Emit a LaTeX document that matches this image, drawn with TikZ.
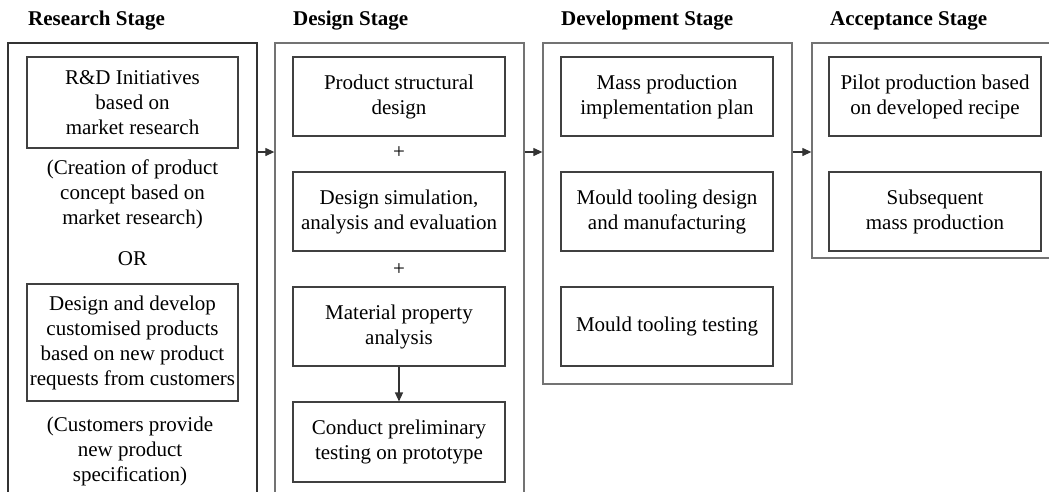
\documentclass[tikz,border=0pt]{standalone}
\usepackage{fontspec}
\setmainfont{Liberation Serif}
\usetikzlibrary{arrows.meta}
\begin{document}
\begin{tikzpicture}[x=1pt,y=-1pt,
  font=\fontsize{21}{25}\selectfont,
  outerbox/.style={draw=black!55,line width=1.3pt,inner sep=0pt,minimum width=#1},
  innerbox/.style={draw=black!75,line width=1.1pt,inner sep=0pt,align=center,minimum width=212pt},
  plain/.style={inner sep=0pt,align=center},
  title/.style={anchor=base west,inner sep=0pt,font=\fontsize{21}{25}\selectfont\bfseries},
  arr/.style={draw=black!80,line width=1.2pt,-{Triangle[length=9pt,width=8pt]}}]
\useasboundingbox (0,0) rectangle (1049,491);
% titles
\node[title] (tr) at (28,25) {Research Stage};
\node[title] (td) at (293,25) {Design Stage};
\node[title] (tv) at (561,25) {Development Stage};
\node[title] (ta) at (830,25) {Acceptance Stage};
% outer boxes
\node[outerbox=249pt,draw=black!80,minimum height=480pt] (rout) at (132.5,283) {};
\node[outerbox=249pt,minimum height=480pt] (dout) at (399.5,283) {};
\node[outerbox=249pt,minimum height=341pt] (vout) at (667.5,213.5) {};
\node[outerbox=249pt,minimum height=215pt] (aout) at (936.5,150.5) {};
% research
\node[innerbox,minimum width=211pt,minimum height=91pt] (r1) at (132.5,102.5) {R\&D Initiatives\\based on\\market research};
\node[plain] (n1) at (132.5,194) {(Creation of product\\concept based on\\market research)};
\node[plain] (or) at (132.5,259) {OR};
\node[innerbox,minimum width=211pt,minimum height=117pt] (r2) at (132.5,342.5) {Design and develop\\customised products\\based on new product\\requests from customers};
\node[plain] (n2) at (130,451) {(Customers provide\\new product\\specification)};
% design
\node[innerbox,minimum height=79pt] (d1) at (399,96.5) {Product structural\\design};
\node[plain] (p1) at (399,153) {+};
\node[innerbox,minimum height=79pt] (d2) at (399,211.5) {Design simulation,\\analysis and evaluation};
\node[plain] (p2) at (399,270) {+};
\node[innerbox,minimum height=79pt] (d3) at (399,326.5) {Material property\\analysis};
\node[innerbox,minimum height=80pt] (d4) at (399,442) {Conduct preliminary\\testing on prototype};
% development
\node[innerbox,minimum height=79pt] (v1) at (667,96.5) {Mass production\\implementation plan};
\node[innerbox,minimum height=79pt] (v2) at (667,211.5) {Mould tooling design\\and manufacturing};
\node[innerbox,minimum height=79pt] (v3) at (667,326.5) {Mould tooling testing};
% acceptance
\node[innerbox,minimum height=79pt] (a1) at (935,96.5) {Pilot production based\\on developed recipe};
\node[innerbox,minimum height=79pt] (a2) at (935,211.5) {Subsequent\\mass production};
% connectors
\coordinate (ya) at (0,152);
\draw[arr] (rout.east |- ya) -- (dout.west |- ya);
\draw[arr] (dout.east |- ya) -- (vout.west |- ya);
\draw[arr] (vout.east |- ya) -- (aout.west |- ya);
\draw[arr] (d3) -- (d4);
\end{tikzpicture}
\end{document}
